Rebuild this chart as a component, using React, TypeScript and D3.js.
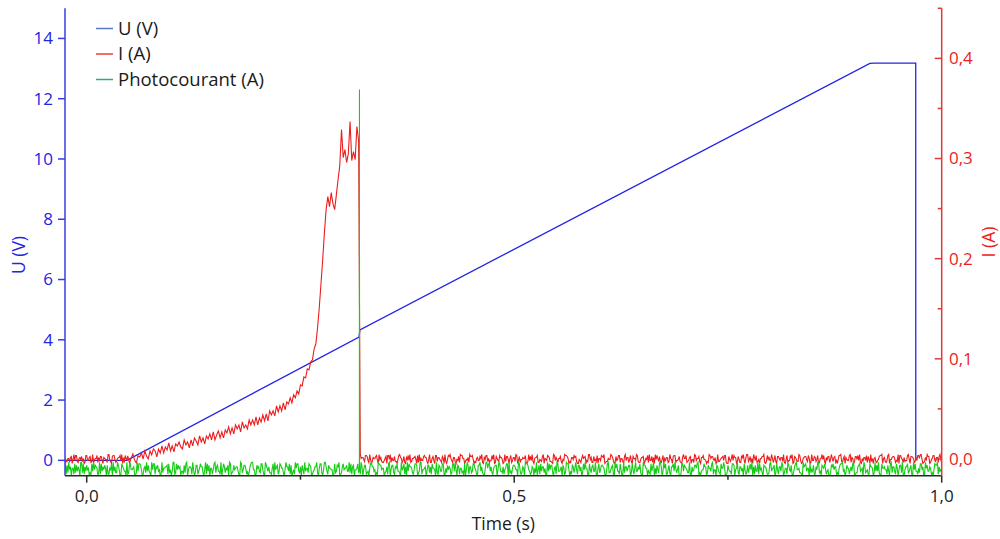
import React from 'react';
import * as d3 from 'd3';

// ---------- data ----------
// U (V): piecewise voltage ramp (time s, value V)
const U_TIME = [-0.026, 0.047, 0.3185, 0.3195, 0.916, 0.921, 0.9696, 0.9697];
const U_VALUE = [0, 0, 4.09, 4.33, 13.17, 13.18, 13.18, 0.05];

// noise-floor sampling of the recorded currents
const T_START = -0.026;
const NOISE_STEP = 0.001;
const PRE_RISE_SAMPLES = 74; // -0.026 .. 0.047 s
const POST_START = 0.32;
const POST_SAMPLES = 681; // 0.320 .. 1.000 s
const PHOTO_SAMPLES = 1027; // -0.026 .. 1.000 s

// I (A): rising part, in mA, from t = 0.048 s every 2 ms
const I_RISE_START = 0.048;
const I_RISE_STEP = 0.002;
const I_RISE_MA = [
  3, -4, 1, 5, -1, -4, 3, 2, 6, 0,
  8, 3, 0, 8, 4, 10, 8, 2, 10, 6,
  13, 6, 12, 9, 16, 8, 13, 7, 15, 13,
  17, 12, 10, 19, 14, 17, 11, 19, 13, 21,
  18, 14, 23, 17, 21, 15, 23, 20, 25, 19,
  27, 19, 24, 28, 21, 27, 21, 29, 26, 32,
  25, 31, 25, 34, 30, 34, 27, 37, 31, 34,
  30, 39, 34, 39, 34, 42, 34, 41, 37, 44,
  38, 45, 38, 48, 44, 48, 43, 53, 47, 53,
  48, 56, 49, 57, 55, 61, 56, 64, 61, 68,
  65, 74, 73, 82, 81, 90, 89, 97, 99, 110,
  115, 131, 151, 175, 199, 226, 249, 262, 252, 266,
  255, 249, 264, 279, 293, 329, 301, 309, 296, 305,
  337, 298, 307, 299, 332, 318,
];

// hand-typed noise digits for the flat noise floors
const NOISE_DIGITS =
  '38172946055182736409928163745021839476502918364750' +
  '71154809362297401865330912784456102938874015629373' +
  '20948816573401925566718240399128475603317289046651' +
  '94027713586620491837055148926733190486254709812374' +
  '56631098247751302689944017563288410975362215809467' +
  '13875520496638170241958832607419355287601346692058' +
  '82049963175544018237690126845573392816704458231960' +
  '47712305896634021987745502361890477216583320945816' +
  '09386652148870239914456037726185540921763388105274' +
  '65128839407615523080497166238854107793621049958836' +
  '21567704983326145880923157764409831265098874312650' +
  '52904718366250193847720561983346075129884031762594' +
  '17736028495510842673391058247765103892246710958331' +
  '84019266357702841593364820197755042183690517429960' +
  '39581147206683952470018837654229106347758912034486' +
  '60275538914407632185596012743318870459216635084127' +
  '25849061733918452076641128935570284166397025518843' +
  '71036894452210967835508243711649923076585134002768' +
  '46612057889340275514638901226783450972341186650293' +
  '73920185564417308926631850477291046682357109483315' +
  '28846019573365120487791634205588917340266135978402' +
  '90571346628803751194026687335291804765521938460173' +
  '15698402273361948807531126490387556204913788246659';
// I noise: mA = digit - 4.5 ; Photocourant noise: mA = -10 + (digit - 4.5) * 1.5
const I_NOISE_CENTER = 0;
const I_NOISE_SCALE = 1.0;
const PHOTO_NOISE_CENTER = -10;
const PHOTO_NOISE_SCALE = 1.5;
const PHOTO_SPIKE_TIME = [0.3189, 0.319, 0.3191];
const PHOTO_SPIKE_MA = [-9, 369, -9];

// axes
const X_TICKS = [0, 0.5, 1.0];
const X_TICK_LABELS = ['0,0', '0,5', '1,0'];
const X_MINOR = [0.25, 0.75];
const U_TICKS = [0, 2, 4, 6, 8, 10, 12, 14];
const I_TICKS = [0, 0.1, 0.2, 0.3, 0.4];
const I_TICK_LABELS = ['0,0', '0,1', '0,2', '0,3', '0,4'];
const I_MINOR = [0.05, 0.15, 0.25, 0.35, 0.45];

const LEGEND = [
  { label: 'U (V)', color: '#5a7cc8' },
  { label: 'I (A)', color: '#e8403a' },
  { label: 'Photocourant (A)', color: '#2fae6f' },
];

// ---------- layout ----------
const W = 1000;
const H = 539;
const L = 65;
const R = 941.7;
const T = 8.3;
const B = 475.7;
const FONT = "'Open Sans', 'DejaVu Sans', sans-serif";
const BLUE = '#2424e6';
const AXBLUE = '#3a3ae8';
const RED = '#ee1c1c';
const AXRED = '#df3a3a';
const GREEN = '#14cc14';

type P = [number, number];

const digit = (k: number) => +NOISE_DIGITS[((k % NOISE_DIGITS.length) + NOISE_DIGITS.length) % NOISE_DIGITS.length] - 4.5;

export default function App() {
  const x = d3.scaleLinear().domain([-0.0254, 1.0]).range([L, R]);
  const yU = d3.scaleLinear().domain([-0.51, 15.0]).range([B, T]);
  const yI = d3.scaleLinear().domain([-0.0167, 0.45]).range([B, T]);

  const uPts: P[] = U_TIME.map((t, i) => [t, U_VALUE[i]]);

  const len = NOISE_DIGITS.length;
  const iPts: P[] = [];
  for (let j = 0; j < PRE_RISE_SAMPLES; j++) {
    iPts.push([T_START + j * NOISE_STEP, (I_NOISE_CENTER + digit(len - 1 - POST_SAMPLES - j) * I_NOISE_SCALE) / 1000]);
  }
  I_RISE_MA.forEach((v, k) => iPts.push([I_RISE_START + k * I_RISE_STEP, v / 1000]));
  for (let j = 0; j < POST_SAMPLES; j++) {
    iPts.push([POST_START + j * NOISE_STEP, (I_NOISE_CENTER + digit(len - 1 - j) * I_NOISE_SCALE) / 1000]);
  }

  const gPts: P[] = [];
  for (let j = 0; j < PHOTO_SAMPLES; j++) {
    const t = T_START + j * NOISE_STEP;
    if (Math.abs(t - PHOTO_SPIKE_TIME[1]) < 1e-6) continue;
    gPts.push([t, (PHOTO_NOISE_CENTER + digit(j) * PHOTO_NOISE_SCALE) / 1000]);
  }
  PHOTO_SPIKE_TIME.forEach((t, k) => gPts.push([t, PHOTO_SPIKE_MA[k] / 1000]));
  gPts.sort((a, b) => a[0] - b[0]);

  const lineU = d3.line<P>().x((d) => x(d[0])).y((d) => yU(d[1]));
  const lineI = d3.line<P>().x((d) => x(d[0])).y((d) => yI(d[1]));

  return (
    <svg
      width={W}
      height={H}
      style={{ position: 'absolute', left: 0, top: 0, background: '#fff' }}
      fontFamily={FONT}
    >
      <defs>
        <clipPath id="plot">
          <rect x={L} y={T} width={R - L} height={B - T} />
        </clipPath>
      </defs>

      <g clipPath="url(#plot)">
        <path d={lineU(uPts) || ''} fill="none" stroke={BLUE} strokeWidth={1.3} />
        <path d={lineI(iPts) || ''} fill="none" stroke={RED} strokeWidth={1.1} />
        <path d={lineI(gPts) || ''} fill="none" stroke={GREEN} strokeWidth={1.1} />
      </g>

      {/* bottom axis */}
      <line x1={L} x2={R} y1={B} y2={B} stroke="#2a2a2a" strokeWidth={1.5} />
      {X_TICKS.map((v, i) => (
        <g key={'xt' + i}>
          <line x1={x(v)} x2={x(v)} y1={B} y2={B + 7} stroke="#2a2a2a" strokeWidth={1.5} />
          <text x={x(v)} y={502} textAnchor="middle" fontSize={17} fill="#1a1a1a">
            {X_TICK_LABELS[i]}
          </text>
        </g>
      ))}
      {X_MINOR.map((v, i) => (
        <line key={'xm' + i} x1={x(v)} x2={x(v)} y1={B} y2={B + 4} stroke="#2a2a2a" strokeWidth={1.5} />
      ))}
      <text x={(L + R) / 2} y={530} textAnchor="middle" fontSize={17.5} fill="#1a1a1a">
        Time (s)
      </text>

      {/* left axis */}
      <line x1={L} x2={L} y1={T} y2={B} stroke={AXBLUE} strokeWidth={1.5} />
      {U_TICKS.map((v, i) => (
        <g key={'ut' + i}>
          <line x1={L - 7} x2={L} y1={yU(v)} y2={yU(v)} stroke={AXBLUE} strokeWidth={1.5} />
          <text x={53} y={yU(v)} dy="0.35em" textAnchor="end" fontSize={17} fill={BLUE}>
            {v}
          </text>
        </g>
      ))}
      <text
        transform={`translate(19,255) rotate(-90)`}
        textAnchor="middle"
        dy="0.35em"
        fontSize={17.5}
        fill={BLUE}
      >
        U (V)
      </text>

      {/* right axis */}
      <line x1={R} x2={R} y1={T} y2={B} stroke={AXRED} strokeWidth={1.5} />
      {I_TICKS.map((v, i) => (
        <g key={'it' + i}>
          <line x1={R - 7} x2={R} y1={yI(v)} y2={yI(v)} stroke={AXRED} strokeWidth={1.5} />
          <text x={949} y={yI(v)} dy="0.35em" textAnchor="start" fontSize={17} fill={RED}>
            {I_TICK_LABELS[i]}
          </text>
        </g>
      ))}
      {I_MINOR.map((v, i) => (
        <line key={'im' + i} x1={R - 4} x2={R} y1={yI(v)} y2={yI(v)} stroke={AXRED} strokeWidth={1.5} />
      ))}
      <text
        transform={`translate(989,242) rotate(-90)`}
        textAnchor="middle"
        dy="0.35em"
        fontSize={17.5}
        fill={RED}
      >
        I (A)
      </text>

      {/* legend */}
      {LEGEND.map((d, i) => {
        const ly = 28.5 + i * 25.5;
        return (
          <g key={'lg' + i}>
            <line x1={96} x2={113} y1={ly} y2={ly} stroke={d.color} strokeWidth={1.5} />
            <text x={118} y={ly} dy="0.35em" fontSize={18.5} fill="#1a1a1a">
              {d.label}
            </text>
          </g>
        );
      })}
    </svg>
  );
}
